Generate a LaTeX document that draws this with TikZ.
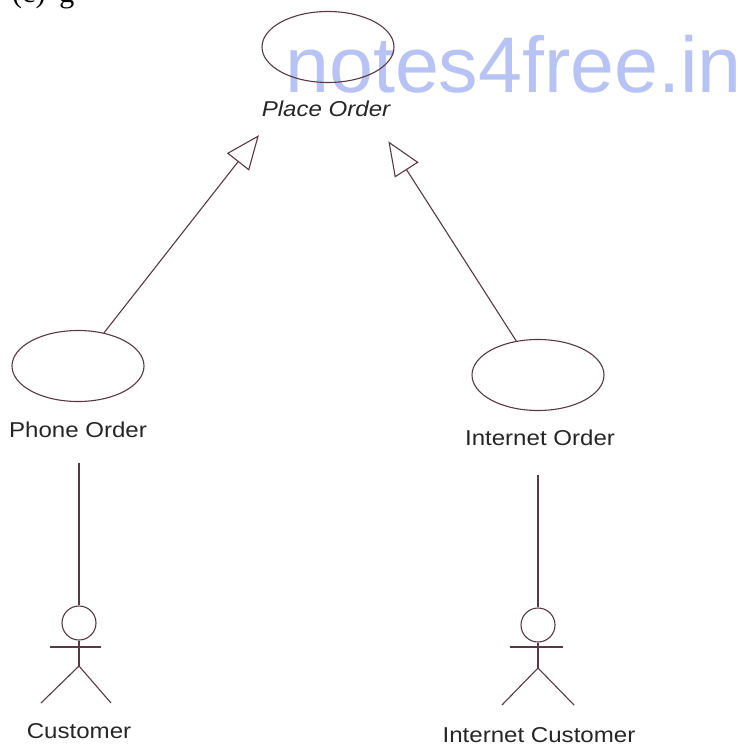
\documentclass[tikz,border=0pt]{standalone}
\usepackage{fontspec}
\setmainfont{Liberation Serif}
\newfontfamily\lblfont[FakeStretch=1.12]{Liberation Sans}
\newfontfamily\wmfont{Liberation Sans}
\usetikzlibrary{shapes.geometric,arrows.meta}
\definecolor{ink}{RGB}{88,56,66}
\definecolor{wm}{RGB}{184,195,245}
\tikzset{
  usecase/.style={draw=ink, line width=1.1pt, ellipse, minimum width=132pt, minimum height=71pt, inner sep=0pt},
  lbl/.style={font=\lblfont\fontsize{21.5}{24}\selectfont, inner sep=0pt, anchor=base, text=black!85},
  head/.style={draw=ink, line width=1.1pt, circle, minimum size=34pt, inner sep=0pt},
  limb/.style={draw=ink, line width=1.1pt},
  gen/.style={draw=ink, line width=1.1pt, -{Triangle[open, length=34pt, width=28pt, line width=1.1pt]}},
  assoc/.style={draw=ink, line width=1.1pt}
}
\begin{document}
\begin{tikzpicture}[x=1pt, y=-1pt]
\useasboundingbox (0,0) rectangle (745,746);
\clip (0,0) rectangle (745,746);
% header fragment (cut off at the top edge)
\node[font=\fontsize{30}{32}\selectfont, anchor=base west, inner sep=0pt] (hdr) at (12,3) {(c)\hspace{14pt}g};
% watermark
\node[font=\wmfont\fontsize{79}{88}\selectfont, text=wm, anchor=base west, inner sep=0pt] (wmark) at (285,93) {notes4free.in};
% use cases
\node[usecase] (place) at (328,47) {};
\node[lbl, font=\lblfont\itshape\fontsize{21.5}{24}\selectfont] (placelbl) at (326,117) {Place Order};
\node[usecase] (phone) at (78,366) {};
\node[lbl] (phonelbl) at (78,437) {Phone Order};
\node[usecase] (inet) at (538,375) {};
\node[lbl] (inetlbl) at (540,445) {Internet Order};
% generalisations
\draw[gen, shorten >=112pt] (phone) -- (place.center);
\draw[gen, shorten >=112pt] (inet) -- (place.center);
% actor: Customer
\node[head] (cust) at (79,623) {};
\coordinate (custhip) at (79,666);
\draw[limb] (cust.south) -- (custhip);
\draw[limb] (50,647) -- (101,647);
\draw[limb] (41,703) -- (custhip) -- (111,703);
\node[lbl] (custlbl) at (79,738) {Customer};
% actor: Internet Customer
\node[head] (icust) at (538,625) {};
\coordinate (icusthip) at (538,668);
\draw[limb] (icust.south) -- (icusthip);
\draw[limb] (510,647) -- (563,647);
\draw[limb] (502,705) -- (icusthip) -- (574,705);
\node[lbl] (icustlbl) at (539,742) {Internet Customer};
% associations
\draw[assoc, shorten >=26pt] (cust) -- (cust |- phonelbl.south);
\draw[assoc, shorten >=30pt] (icust) -- (icust |- inetlbl.south);
\end{tikzpicture}
\end{document}
